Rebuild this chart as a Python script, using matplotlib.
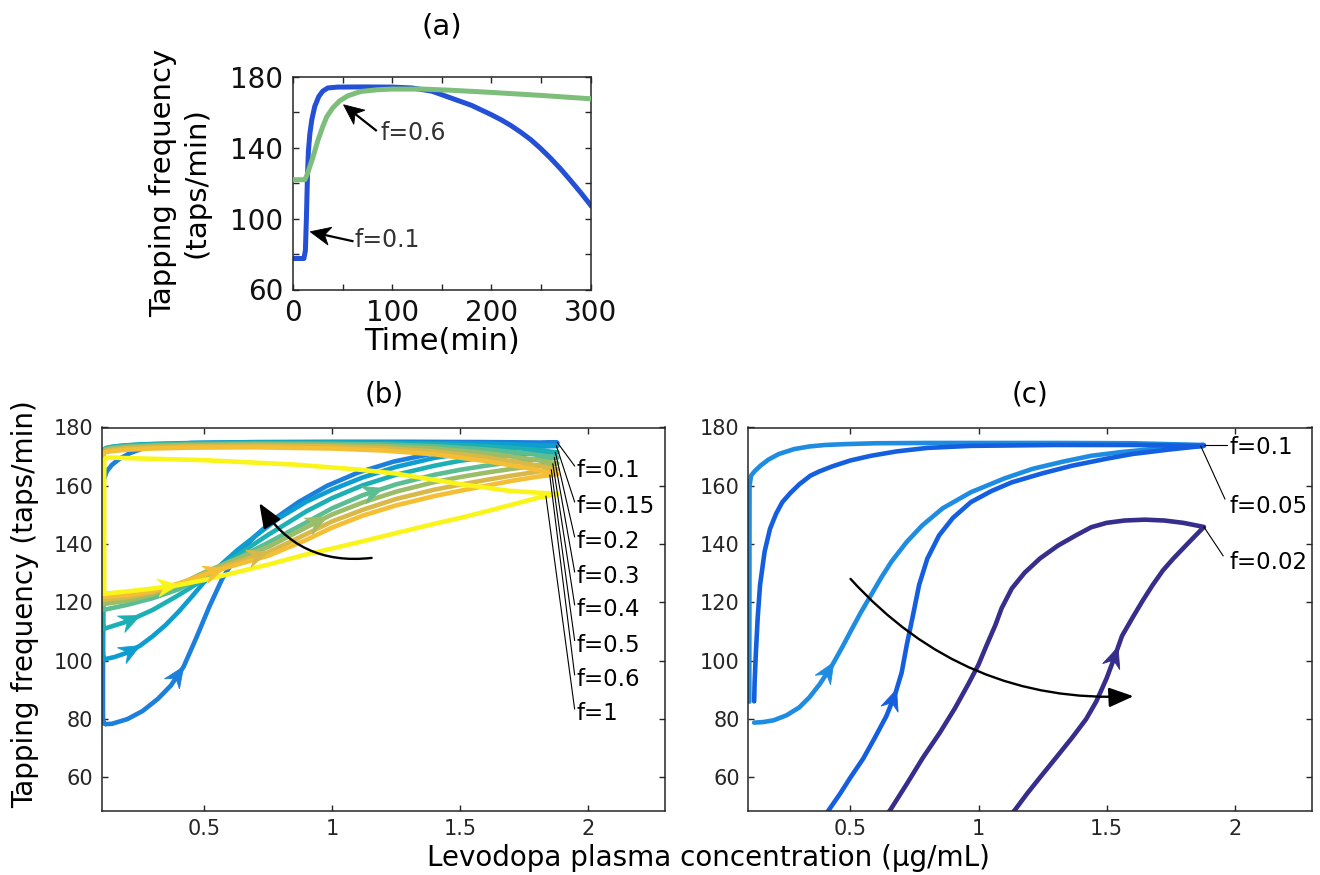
import numpy as np
import matplotlib
matplotlib.use("Agg")
import matplotlib.pyplot as plt
from matplotlib.patches import Polygon, FancyArrowPatch
from matplotlib import transforms as mtransforms
from matplotlib.ticker import FixedLocator

plt.rcParams['font.family'] = ['DejaVu Sans']

# ---------------------------------------------------------------- (a) time course
time_f01 = [0, 11, 12.5, 13.5, 14.5, 15.5, 17, 19, 22, 26, 30, 35, 45, 70, 100,
            120, 140, 160, 180, 200, 210, 220, 230, 240, 250, 260, 270, 280, 290, 300]
tap_f01 = [77.5, 77.5, 82, 100, 122, 138, 148, 156, 163.5, 169, 172, 173.8, 174.3,
           174.4, 174.3, 173.8, 172, 168, 164, 158.7, 155.8, 152.5, 148.7, 144.5, 139.5,
           134, 128, 121.5, 114.8, 107.7]
time_f06 = [0, 12, 14, 17, 20, 25, 30, 34, 40, 47, 55, 68, 85, 100, 130, 160, 200, 250, 300]
tap_f06 = [122, 122, 124.5, 129.5, 134.5, 144, 152, 157.5, 162.5, 166.5, 169.3, 171.8,
           172.8, 173.2, 173.2, 172.5, 171.3, 169.6, 167.7]

# ---------------------------------------------------------------- (b) phase loops
conc_b_up_f01 = [0.115, 0.14, 0.2, 0.26, 0.32, 0.37, 0.42, 0.47, 0.52, 0.57, 0.63, 0.7,
                 0.78, 0.87, 0.98, 1.1, 1.24, 1.4, 1.55, 1.7, 1.88]
tap_b_up_f01 = [78.3, 78.4, 80.0, 82.8, 87.0, 91.5, 98.0, 108.0, 118.5, 128.0, 136.5,
                142.8, 149.0, 154.5, 160.0, 164.5, 168.3, 171.2, 173.0, 174.2, 174.8]
conc_b_dn_f01 = [1.88, 1.6, 1.3, 1.0, 0.7, 0.45, 0.33, 0.26, 0.21, 0.17, 0.14, 0.12,
                 0.108, 0.105, 0.105, 0.108, 0.115]
tap_b_dn_f01 = [174.8, 175.0, 175.1, 175.1, 175.0, 174.7, 174.0, 172.8, 171.2, 169.3,
                167.2, 165.0, 162.0, 160.0, 80.5, 78.6, 78.3]

conc_b_up_f015 = [0.11, 0.15, 0.2, 0.25, 0.3, 0.35, 0.4, 0.45, 0.5, 0.56, 0.63, 0.7,
                  0.79, 0.9, 1.0, 1.12, 1.25, 1.4, 1.55, 1.7, 1.88]
tap_b_up_f015 = [100.5, 101.3, 102.8, 105.2, 108.5, 112.3, 116.8, 121.8, 127.0, 132.5,
                 138.0, 142.8, 148.8, 154.6, 158.7, 162.9, 166.5, 169.6, 171.6, 172.9, 173.7]
conc_b_dn_f015 = [1.88, 1.6, 1.3, 1.0, 0.7, 0.4, 0.25, 0.16, 0.12, 0.108, 0.105, 0.105,
                  0.108, 0.11]
tap_b_dn_f015 = [173.7, 174.5, 174.8, 174.9, 174.9, 174.6, 174.2, 173.6, 173.0, 172.3,
                 171.5, 102.5, 100.7, 100.5]

conc_b_up_grid = [0.11, 0.2, 0.3, 0.4, 0.5, 0.6, 0.75, 0.9, 1.0, 1.12, 1.25, 1.4, 1.5,
                  1.6, 1.7, 1.8, 1.88]
tap_b_up_f02 = [111.0, 113.5, 117.5, 122.5, 128.0, 134.5, 143.2, 151.3, 155.8, 160.2,
                163.8, 166.9, 168.6, 169.8, 170.6, 171.2, 171.5]
tap_b_up_f03 = [117.5, 119.2, 121.5, 124.5, 129.0, 133.8, 140.5, 147.5, 152.3, 156.8,
                160.5, 163.8, 165.5, 166.9, 168.1, 169.1, 169.7]
tap_b_up_f04 = [119.5, 120.6, 122.8, 126.0, 130.3, 134.0, 139.0, 145.8, 150.2, 154.3,
                158.0, 161.3, 163.0, 164.5, 165.8, 166.9, 167.7]
tap_b_up_f05 = [121.0, 121.8, 123.5, 126.3, 129.8, 133.0, 137.2, 143.5, 147.8, 151.8,
                155.5, 158.7, 160.4, 162.0, 163.5, 164.8, 165.7]
tap_b_up_f06 = [122.0, 122.6, 124.0, 126.5, 129.4, 132.3, 136.0, 141.5, 145.7, 149.8,
                153.3, 156.5, 158.3, 160.0, 161.7, 163.1, 164.0]
tap_b_up_f1 = [123.0, 123.8, 124.8, 126.0, 127.7, 129.8, 133.0, 136.5, 138.5, 141.0,
               143.8, 147.0, 149.0, 151.2, 153.5, 155.8, 157.2]

conc_b_dn_grid = [1.88, 1.75, 1.6, 1.4, 1.2, 1.0, 0.7, 0.45, 0.3, 0.2, 0.14, 0.115,
                  0.106, 0.105, 0.105, 0.108, 0.11]
tap_b_dn_f02 = [171.5, 172.7, 173.6, 174.3, 174.7, 174.8, 174.8, 174.6, 174.3, 173.9,
                173.4, 172.9, 172.3, 171.5, 113.0, 111.2, 111.0]
tap_b_dn_f03 = [169.7, 171.2, 172.5, 173.6, 174.2, 174.4, 174.5, 174.3, 174.0, 173.6,
                173.1, 172.7, 172.1, 171.3, 119.5, 117.7, 117.5]
tap_b_dn_f04 = [167.7, 169.5, 171.2, 172.8, 173.6, 174.0, 174.2, 174.0, 173.7, 173.3,
                172.8, 172.4, 171.8, 171.0, 121.5, 119.7, 119.5]
tap_b_dn_f05 = [165.7, 167.8, 169.8, 171.8, 172.9, 173.5, 173.8, 173.6, 173.3, 172.9,
                172.4, 172.0, 171.5, 170.7, 123.0, 121.2, 121.0]
tap_b_dn_f06 = [164.0, 166.3, 168.5, 170.8, 172.1, 172.8, 173.2, 173.1, 172.8, 172.4,
                171.9, 171.5, 171.0, 170.2, 124.0, 122.2, 122.0]
conc_b_dn_f1 = [1.88, 1.69, 1.5, 1.24, 1.1, 0.85, 0.5, 0.2, 0.13, 0.115, 0.11, 0.11, 0.11]
tap_b_dn_f1 = [157.2, 158.3, 160.6, 164.3, 165.6, 167.3, 168.8, 169.5, 169.7, 169.5,
               168.5, 124.5, 123.0]

f_labels_b = ['0.1', '0.15', '0.2', '0.3', '0.4', '0.5', '0.6', '1']
colors_b = ['#1b7fdb', '#0d9dd0', '#1cafb3', '#5cbd92', '#9cbd68', '#d8b848',
            '#f5bf35', '#f9f51a']
arrow_conc_b = [0.42, 0.25, 0.25, 1.2, 0.98, 0.75, 0.58, 0.40]

# ---------------------------------------------------------------- (c) small f
conc_c_up_f01 = [0.124, 0.16, 0.2, 0.25, 0.3, 0.34, 0.38, 0.43, 0.47, 0.5, 0.54, 0.58,
                 0.62, 0.66, 0.72, 0.78, 0.86, 0.97, 1.1, 1.21, 1.33, 1.44, 1.56, 1.68,
                 1.8, 1.88]
tap_c_up_f01 = [78.8, 79.0, 79.6, 81.3, 84.0, 87.5, 92.0, 98.7, 105.0, 110.0, 116.5,
                122.5, 128.5, 134.0, 140.8, 146.4, 152.3, 157.8, 162.5, 165.8, 168.3,
                170.3, 171.6, 172.6, 173.5, 174.0]
conc_c_dn_f01 = [1.88, 1.6, 1.3, 1.0, 0.8, 0.6, 0.48, 0.4, 0.34, 0.28, 0.22, 0.18, 0.15,
                 0.128, 0.112, 0.106, 0.105]
tap_c_dn_f01 = [174.0, 174.6, 174.7, 174.7, 174.7, 174.6, 174.3, 174.0, 173.5, 172.6,
                170.9, 169.0, 167.0, 165.2, 163.5, 160.0, 86.0]

conc_c_up_f005 = [0.405, 0.46, 0.5, 0.55, 0.595, 0.64, 0.674, 0.70, 0.72, 0.745, 0.768,
                  0.8, 0.846, 0.9, 0.97, 1.05, 1.13, 1.25, 1.365, 1.5, 1.6, 1.75, 1.88]
tap_c_up_f005 = [47.5, 54.5, 60.0, 66.5, 73.6, 81.0, 88.4, 96.0, 105.5, 116.0, 126.0,
                 135.0, 143.0, 149.0, 154.4, 158.2, 161.2, 164.3, 166.9, 169.3, 170.9,
                 172.5, 173.7]
conc_c_dn_f005 = [1.88, 1.6, 1.3, 0.97, 0.8, 0.68, 0.58, 0.5, 0.43, 0.38, 0.344, 0.3,
                  0.265, 0.234, 0.21, 0.186, 0.165, 0.147, 0.138, 0.131, 0.126, 0.124]
tap_c_dn_f005 = [173.7, 174.0, 174.0, 173.7, 173.0, 171.8, 170.3, 168.7, 166.7, 165.0,
                 163.5, 160.5, 157.5, 154.4, 150.5, 145.3, 137.5, 126.0, 115.0, 103.2,
                 93.0, 86.1]

conc_c_up_f002 = [1.13, 1.145, 1.19, 1.24, 1.3, 1.365, 1.42, 1.46, 1.5, 1.53, 1.56, 1.6,
                  1.64, 1.68, 1.72, 1.76, 1.82, 1.88]
tap_c_up_f002 = [47.5, 49.2, 54.5, 60.0, 66.5, 73.6, 80.0, 86.1, 94.0, 101.0, 108.5,
                 114.6, 120.5, 126.0, 131.0, 135.0, 140.5, 145.9]
conc_c_dn_f002 = [1.88, 1.8, 1.726, 1.65, 1.57, 1.5, 1.44, 1.38, 1.31, 1.24, 1.18, 1.13,
                  1.09, 1.066, 1.03, 1.0, 0.96, 0.909, 0.85, 0.783, 0.72, 0.658, 0.64]
tap_c_dn_f002 = [145.9, 147.3, 148.1, 148.4, 148.1, 147.3, 145.8, 143.0, 139.5, 135.1,
                 130.2, 124.8, 118.0, 112.3, 105.0, 98.7, 92.0, 83.9, 75.5, 66.8, 57.8,
                 49.2, 47.0]

f_labels_c = ['0.1', '0.05', '0.02']
colors_c = ['#1e8ce1', '#145fe0', '#372d8c']
arrow_conc_c = [0.435, 0.68, 1.545]

# ---------------------------------------------------------------- figure
FIG_W, FIG_H, DPI = 13.2, 8.75, 100
W_PX, H_PX = FIG_W * DPI, FIG_H * DPI
fig = plt.figure(figsize=(FIG_W, FIG_H), dpi=DPI)


def px_box(left, top, right, bottom):
    return [left / W_PX, 1 - bottom / H_PX, (right - left) / W_PX, (bottom - top) / H_PX]


def fig_xy(xp, yp):
    return xp / W_PX, 1 - yp / H_PX


ax_a = fig.add_axes(px_box(293, 77, 590.5, 289.5))
ax_b = fig.add_axes(px_box(101.7, 427.5, 665, 811))
ax_c = fig.add_axes(px_box(748, 427.5, 1311.5, 811))

EDGE = '#262626'
LOOP_LW = 3.3


def style_axes(ax, fs):
    for s in ax.spines.values():
        s.set_color(EDGE)
        s.set_linewidth(1.1)
    ax.tick_params(which='both', direction='in', top=True, right=True, length=4.5,
                   width=1.0, color=EDGE, labelsize=fs, labelcolor=EDGE, pad=6)


def arrowhead(ax, x, y, ang, color, length=15.0, half_width=6.5, notch=5.0, z=4):
    """Barbed arrowhead with its tip at data point (x, y); size in points."""
    verts = np.array([[0, 0], [-length, half_width], [-length + notch, 0],
                      [-length, -half_width]])
    rot = np.array([[np.cos(ang), -np.sin(ang)], [np.sin(ang), np.cos(ang)]])
    verts = verts @ rot.T
    trans = (mtransforms.Affine2D().scale(fig.dpi / 72.0)
             + mtransforms.ScaledTranslation(x, y, ax.transData))
    ax.add_patch(Polygon(verts, closed=True, transform=trans, facecolor=color,
                         edgecolor=color, lw=0.6, zorder=z, clip_on=False))


def arrow_on_curve(ax, xs, ys, xa, color):
    ya = np.interp(xa, xs, ys)
    xb = xa - 0.015
    yb = np.interp(xb, xs, ys)
    p1 = ax.transData.transform((xb, yb))
    p2 = ax.transData.transform((xa, ya))
    ang = np.arctan2(p2[1] - p1[1], p2[0] - p1[0])
    arrowhead(ax, xa, ya, ang, color)


def straight_arrow(ax, tail, tip, color='k', lw=1.6):
    p1 = ax.transData.transform(tail)
    p2 = ax.transData.transform(tip)
    ang = np.arctan2(p2[1] - p1[1], p2[0] - p1[0])
    # stop the shaft inside the head
    back = ax.transData.inverted().transform(p2 - 10 * np.array([np.cos(ang), np.sin(ang)]))
    ax.plot([tail[0], back[0]], [tail[1], back[1]], color=color, lw=lw, zorder=5,
            solid_capstyle='butt')
    arrowhead(ax, tip[0], tip[1], ang, color, length=14.5, half_width=6.5, notch=4.0, z=6)


# ---------------- panel (a)
ax_a.set_xlim(0, 300)
ax_a.set_ylim(60, 180)
ax_a.plot(time_f06, tap_f06, color='#7dbe7b', lw=3.6, solid_joinstyle='round', zorder=3)
ax_a.plot(time_f01, tap_f01, color='#2350d6', lw=3.6, solid_joinstyle='round', zorder=2)
ax_a.xaxis.set_major_locator(FixedLocator([0, 100, 200, 300]))
ax_a.xaxis.set_minor_locator(FixedLocator([50, 150, 250]))
ax_a.yaxis.set_major_locator(FixedLocator([60, 100, 140, 180]))
ax_a.yaxis.set_minor_locator(FixedLocator([80, 120, 160]))
style_axes(ax_a, 20)
ax_a.tick_params(labelcolor='#111111', pad=7)
straight_arrow(ax_a, (84.5, 149.5), (51, 164.3))
straight_arrow(ax_a, (61, 87.2), (17.4, 92.6))
ax_a.text(88, 148.3, 'f=0.6', fontsize=17, color='#333333', ha='left', va='center')
ax_a.text(62.5, 87.9, 'f=0.1', fontsize=17, color='#333333', ha='left', va='center')

fig.text(*fig_xy(442, 27), '(a)', fontsize=21, ha='center', va='center')
fig.text(*fig_xy(442, 342), 'Time(min)', fontsize=22, ha='center', va='center')
fig.text(*fig_xy(180, 183), 'Tapping frequency\n(taps/min)', fontsize=21, rotation=90,
         ha='center', va='center', multialignment='center', linespacing=1.25)

# ---------------- panel (b)
ax_b.set_xlim(0.1, 2.3)
ax_b.set_ylim(48.5, 180)
ax_b.xaxis.set_major_locator(FixedLocator([0.5, 1, 1.5, 2]))
ax_b.yaxis.set_major_locator(FixedLocator([60, 80, 100, 120, 140, 160, 180]))
ax_b.set_xticklabels(['0.5', '1', '1.5', '2'])
style_axes(ax_b, 15)

curves_b = [
    (conc_b_up_f01, tap_b_up_f01, conc_b_dn_f01, tap_b_dn_f01),
    (conc_b_up_f015, tap_b_up_f015, conc_b_dn_f015, tap_b_dn_f015),
    (conc_b_up_grid, tap_b_up_f02, conc_b_dn_grid, tap_b_dn_f02),
    (conc_b_up_grid, tap_b_up_f03, conc_b_dn_grid, tap_b_dn_f03),
    (conc_b_up_grid, tap_b_up_f04, conc_b_dn_grid, tap_b_dn_f04),
    (conc_b_up_grid, tap_b_up_f05, conc_b_dn_grid, tap_b_dn_f05),
    (conc_b_up_grid, tap_b_up_f06, conc_b_dn_grid, tap_b_dn_f06),
    (conc_b_up_grid, tap_b_up_f1, conc_b_dn_f1, tap_b_dn_f1),
]
for (xu, yu, xd, yd), col, xa in zip(curves_b, colors_b, arrow_conc_b):
    ax_b.plot(list(xu) + list(xd), list(yu) + list(yd), color=col, lw=LOOP_LW,
              solid_joinstyle='round', solid_capstyle='round', zorder=2)
    arrow_on_curve(ax_b, xu, yu, xa, col)

label_y_b = [165.2, 152.9, 140.9, 128.9, 117.6, 105.4, 93.6, 81.9]
leader_shift_b = [0.0, 0.004, 0.008, 0.012, 0.018, 0.024, 0.03, 0.045]
for (xu, yu, _, _), lab, ly, sh in zip(curves_b, f_labels_b, label_y_b, leader_shift_b):
    x0 = xu[-1] - sh
    y0 = np.interp(x0, xu, yu)
    ax_b.plot([x0, 1.947], [y0, ly + 1.6], color='k', lw=0.8, zorder=6)
    ax_b.text(1.955, ly, 'f=' + lab, fontsize=16.5, ha='left', va='center', zorder=7)

ax_b.add_patch(FancyArrowPatch((1.165, 135.4), (0.71, 154.9),
                               connectionstyle='arc3,rad=-0.33',
                               arrowstyle='-|>,head_length=0.5,head_width=0.2',
                               mutation_scale=30, lw=1.7, color='k', zorder=8))

# ---------------- panel (c)
ax_c.set_xlim(0.1, 2.3)
ax_c.set_ylim(48.5, 180)
ax_c.xaxis.set_major_locator(FixedLocator([0.5, 1, 1.5, 2]))
ax_c.yaxis.set_major_locator(FixedLocator([60, 80, 100, 120, 140, 160, 180]))
ax_c.set_xticklabels(['0.5', '1', '1.5', '2'])
style_axes(ax_c, 15)

curves_c = [
    (conc_c_up_f01, tap_c_up_f01, conc_c_dn_f01, tap_c_dn_f01),
    (conc_c_up_f005, tap_c_up_f005, conc_c_dn_f005, tap_c_dn_f005),
    (conc_c_up_f002, tap_c_up_f002, conc_c_dn_f002, tap_c_dn_f002),
]
for (xu, yu, xd, yd), col, xa in zip(curves_c, colors_c, arrow_conc_c):
    ax_c.plot(list(xu) + list(xd), list(yu) + list(yd), color=col, lw=LOOP_LW,
              solid_joinstyle='round', solid_capstyle='round', zorder=2)
    arrow_on_curve(ax_c, xu, yu, xa, col)

label_y_c = [173.2, 153.0, 133.8]
leader_end_c = [(1.97, 174.0), (1.962, 155.5), (1.955, 136.0)]
leader_shift_c = [0.0, 0.012, 0.0]
for (xu, yu, _, _), lab, ly, end, sh in zip(curves_c, f_labels_c, label_y_c,
                                              leader_end_c, leader_shift_c):
    x0 = xu[-1] - sh
    y0 = np.interp(x0, xu, yu)
    ax_c.plot([x0, end[0]], [y0, end[1]], color='k', lw=0.8, zorder=6)
    ax_c.text(1.978, ly, 'f=' + lab, fontsize=16.5, ha='left', va='center', zorder=7)

ax_c.add_patch(FancyArrowPatch((0.493, 128.8), (1.616, 87.9),
                               connectionstyle='arc3,rad=0.24',
                               arrowstyle='-|>,head_length=0.5,head_width=0.2',
                               mutation_scale=30, lw=1.7, color='k', zorder=8))

# ---------------- shared labels
fig.text(*fig_xy(384, 395), '(b)', fontsize=20, ha='center', va='center')
fig.text(*fig_xy(1030, 395), '(c)', fontsize=20, ha='center', va='center')
fig.text(*fig_xy(25, 604), 'Tapping frequency (taps/min)', fontsize=20, rotation=90,
         ha='center', va='center')
fig.text(*fig_xy(708, 858), 'Levodopa plasma concentration (μg/mL)', fontsize=20,
         ha='center', va='center')

fig.savefig('out.png', dpi=DPI)
